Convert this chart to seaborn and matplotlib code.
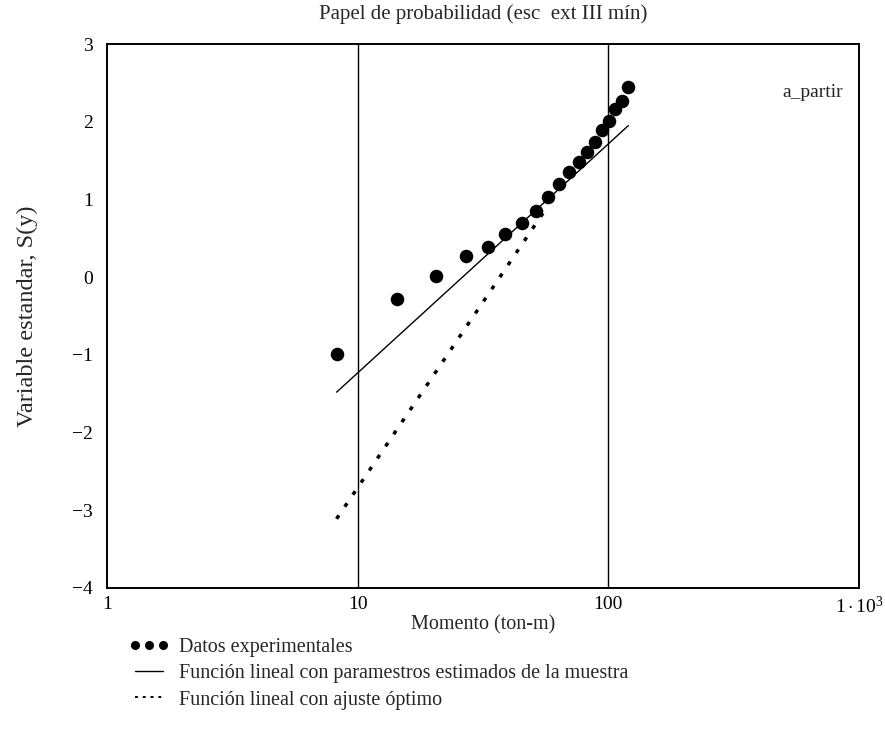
import matplotlib
matplotlib.use("Agg")
import matplotlib.pyplot as plt
import seaborn as sns
import pandas as pd
from matplotlib.lines import Line2D

# Experimental data: moment (ton-m) vs standard variable
momento = [8.24, 14.3, 20.5, 27.0, 33.1, 38.7, 45.3, 51.5, 57.5, 63.7,
           69.8, 76.6, 82.4, 88.7, 94.6, 100.9, 106.7, 113.8, 120.2]
variable = [-0.99, -0.28, 0.01, 0.27, 0.39, 0.55, 0.70, 0.85, 1.03, 1.20,
            1.35, 1.48, 1.61, 1.74, 1.89, 2.01, 2.16, 2.27, 2.45]

# Linear function with parameters estimated from the sample (end points)
muestra_x = [8.24, 120.2]
muestra_y = [-1.48, 1.95]

# Linear function with optimal fit (end points)
optimo_x = [8.24, 57.5]
optimo_y = [-3.11, 0.92]

x_ticks = [1, 10, 100, 1000]
x_tick_labels = ["1", "10", "100", r"$1\cdot10^{3}$"]
y_ticks = [-4, -3, -2, -1, 0, 1, 2, 3]

sns.set_style("white")
plt.rcParams["font.family"] = ["Liberation Serif", "DejaVu Serif"]
plt.rcParams["mathtext.fontset"] = "custom"
plt.rcParams["mathtext.rm"] = "Liberation Serif"
plt.rcParams["mathtext.it"] = "Liberation Serif:italic"
plt.rcParams["mathtext.bf"] = "Liberation Serif:bold"

fig = plt.figure(figsize=(8.85, 7.46), dpi=100)
ax = fig.add_axes([0.1209, 0.2118, 0.8497, 0.7292])

datos = pd.DataFrame({"x": momento, "y": variable})
sns.scatterplot(data=datos, x="x", y="y", ax=ax, color="black", s=95,
                edgecolor="black", linewidth=0, zorder=4)

linea_m = pd.DataFrame({"x": muestra_x, "y": muestra_y})
sns.lineplot(data=linea_m, x="x", y="y", ax=ax, color="black", lw=1.0,
             zorder=3)

linea_o = pd.DataFrame({"x": optimo_x, "y": optimo_y})
sns.lineplot(data=linea_o, x="x", y="y", ax=ax, color="black", lw=2.5,
             linestyle=(0, (1.2, 3.0)), zorder=3)

ax.set_xscale("log")
ax.set_xlim(1, 1000)
ax.set_ylim(-4, 3)
ax.set_xticks(x_ticks)
ax.set_xticklabels(x_tick_labels)
ax.set_yticks(y_ticks)
ax.set_yticklabels([str(v) if v >= 0 else "\u2212" + str(-v) for v in y_ticks])
ax.minorticks_off()

for xv in [10, 100]:
    ax.axvline(xv, color="black", lw=1.0, zorder=2)

for s in ax.spines.values():
    s.set_color("black")
    s.set_linewidth(1.4)

ax.tick_params(axis="both", direction="in", length=3, width=0.8,
               labelsize=14, colors="black")
ax.tick_params(axis="x", pad=6)
ax.tick_params(axis="y", pad=10)

ax.set_title("Papel de probabilidad (esc  ext III mín)", fontsize=15, pad=18)
ax.set_xlabel("Momento (ton-m)", fontsize=14.5, labelpad=-2)
ax.set_ylabel("Variable estandar, S(y)", fontsize=17.5, labelpad=25)

ax.text(0.979, 0.91, "a_partir", transform=ax.transAxes, ha="right",
        va="center", fontsize=14)

handles = [
    Line2D([], [], color="black", marker="o", linestyle="none", markersize=5.5),
    Line2D([], [], color="black", lw=1.0),
    Line2D([], [], color="black", lw=1.4, linestyle=(0, (1.5, 2.5))),
]
labels = [
    "Datos experimentales",
    "Función lineal con paramestros estimados de la muestra",
    "Función lineal con ajuste óptimo",
]
fig.legend(handles, labels, loc="upper left", bbox_to_anchor=(0.146, 0.1446),
           frameon=False, fontsize=14.5, numpoints=3, handlelength=2.0,
           handletextpad=0.45, labelspacing=0.35, borderpad=0, borderaxespad=0)

fig.savefig("out.png", dpi=100)
